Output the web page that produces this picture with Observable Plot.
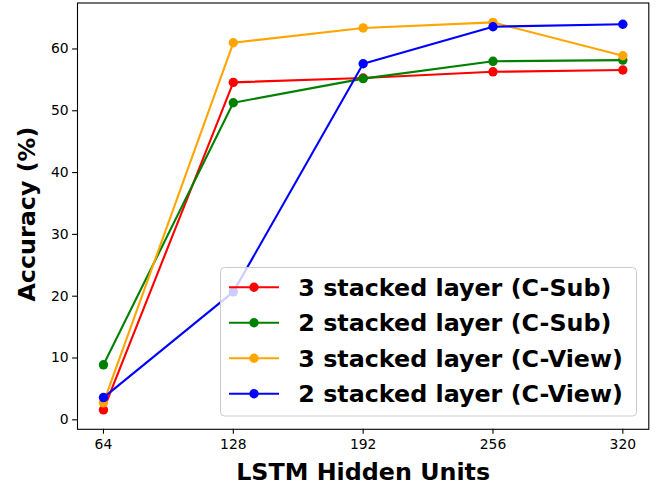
<!DOCTYPE html>
<html>
<head>
<meta charset="utf-8">
<script src="https://cdn.jsdelivr.net/npm/d3@7"></script>
<script src="https://cdn.jsdelivr.net/npm/@observablehq/plot@0.6"></script>
<style>
  html, body { margin: 0; padding: 0; background: #fff; }
  #chart svg { display: block; background: #fff; }
</style>
</head>
<body>
<div id="chart"></div>
<script>
// ---- data ----
const hiddenUnits = [64, 128, 192, 256, 320];
const seriesNames = [
  "3 stacked layer (C-Sub)",
  "2 stacked layer (C-Sub)",
  "3 stacked layer (C-View)",
  "2 stacked layer (C-View)"
];
const seriesColors = ["red", "green", "orange", "blue"];
const acc3Sub  = [1.6, 54.6, 55.3, 56.3, 56.6];
const acc2Sub  = [8.9, 51.3, 55.2, 58.0, 58.2];
const acc3View = [2.75, 61.0, 63.4, 64.3, 58.9];
const acc2View = [3.6, 20.7, 57.6, 63.6, 64.0];
const yTicks = [0, 10, 20, 30, 40, 50, 60];
const xLabel = "LSTM Hidden Units";
const yLabel = "Accuracy (%)";

const seriesValues = [acc3Sub, acc2Sub, acc3View, acc2View];
const rows = seriesValues.flatMap((vals, s) =>
  vals.map((v, i) => ({series: seriesNames[s], units: hiddenUnits[i], acc: v}))
);

// matplotlib-like 5% autoscale margins
function padded(ext) { const m = (ext[1] - ext[0]) * 0.05; return [ext[0] - m, ext[1] + m]; }
const xDomain = padded(d3.extent(hiddenUnits));
const yDomain = padded(d3.extent(seriesValues.flat()));

const font = "DejaVu Sans, sans-serif";
const bigSize = 23.8;

const seriesMarks = seriesNames.flatMap((name, s) => {
  const data = rows.filter(r => r.series === name);
  return [
    Plot.line(data, {x: "units", y: "acc", stroke: seriesColors[s], strokeWidth: 2.1}),
    Plot.dot(data, {x: "units", y: "acc", fill: seriesColors[s], r: 4.7, stroke: "none"})
  ];
});

const chart = Plot.plot({
  width: 658,
  height: 485,
  marginLeft: 77,
  marginRight: 9.7,
  marginTop: 2.5,
  marginBottom: 56.2,
  style: {fontFamily: font, fontSize: "13.9px", color: "black", background: "white"},
  x: {type: "linear", domain: xDomain},
  y: {type: "linear", domain: yDomain},
  marks: [
    ...seriesMarks,
    Plot.frame({stroke: "black", strokeWidth: 1.1}),
    Plot.axisX({ticks: hiddenUnits, tickFormat: d => String(d), tickSize: 4.9, tickPadding: 4.5, label: null, stroke: "black", fill: "black", strokeWidth: 1.1}),
    Plot.axisY({ticks: yTicks, tickFormat: d => String(d), tickSize: 4.9, tickPadding: 4, label: null, stroke: "black", fill: "black", strokeWidth: 1.1}),
    Plot.text([xLabel], {frameAnchor: "bottom", dy: 51, textAnchor: "middle", lineAnchor: "bottom", fontWeight: "bold", fontSize: bigSize, fill: "black", text: d => d}),
    Plot.text([yLabel], {frameAnchor: "left", dx: -50.5, dy: -2, rotate: -90, textAnchor: "middle", lineAnchor: "middle", fontWeight: "bold", fontSize: bigSize, fill: "black", text: d => d})
  ]
});

document.getElementById("chart").appendChild(chart);

// ---- legend (matplotlib-style box, lower right) ----
const svg = d3.select(chart);
const lg = svg.append("g").attr("class", "legend");
lg.append("rect")
  .attr("x", 220.5).attr("y", 267.5).attr("width", 416).attr("height", 148.5)
  .attr("rx", 4).attr("ry", 4)
  .attr("fill", "white").attr("fill-opacity", 0.8)
  .attr("stroke", "#cccccc").attr("stroke-width", 1);
const rowY = [287.3, 322.8, 358.2, 393.7];
seriesNames.forEach((name, i) => {
  const cy = rowY[i];
  lg.append("line").attr("x1", 229).attr("x2", 279).attr("y1", cy).attr("y2", cy)
    .attr("stroke", seriesColors[i]).attr("stroke-width", 2.1);
  lg.append("circle").attr("cx", 254).attr("cy", cy).attr("r", 4.7).attr("fill", seriesColors[i]);
  lg.append("text").attr("x", 298.3).attr("y", cy + 8.6)
    .attr("text-anchor", "start")
    .attr("font-family", font).attr("font-weight", "bold").attr("font-size", bigSize)
    .attr("fill", "black").text(name);
});
</script>
</body>
</html>
